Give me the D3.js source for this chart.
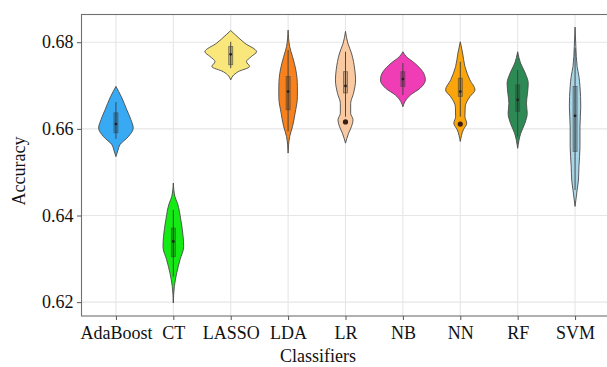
<!DOCTYPE html>
<html>
<head>
<meta charset="utf-8">
<script src="https://cdn.jsdelivr.net/npm/d3@7"></script>
<style>
  body { margin: 0; background: #fff; }
  svg { display: block; }
</style>
</head>
<body>
<div class="chart"></div>
<script>
var container_width = 607;
var container_height = 367;

// data
var classifiers = ["AdaBoost", "CT", "LASSO", "LDA", "LR", "NB", "NN", "RF", "SVM"];
var fill_colors = ["#38AAF3", "#14EA14", "#F9E77C", "#F7821D", "#F9C9A1", "#F03DB6", "#FBA50C", "#2E8A55", "#A8D6E8"];
var y_ticks = [0.62, 0.64, 0.66, 0.68];

// violin outlines: accuracy levels and relative density
var adaboost_acc = [0.6698, 0.6674, 0.6644, 0.6621, 0.6602, 0.6582, 0.6563, 0.6551, 0.6536];
var adaboost_dens = [0, 0.21, 0.42, 0.58, 0.67, 0.48, 0.15, 0.08, 0];
var ct_acc = [0.6475, 0.6444, 0.6428, 0.6390, 0.6351, 0.6328, 0.6298, 0.6267, 0.6236, 0.6198];
var ct_dens = [0, 0.06, 0.16, 0.29, 0.38, 0.40, 0.26, 0.13, 0.04, 0];
var lasso_acc = [0.6827, 0.6817, 0.6798, 0.6778, 0.6767, 0.6755, 0.6744, 0.6732, 0.6722, 0.6713];
var lasso_dens = [0, 0.18, 0.54, 1.0, 0.80, 0.61, 0.73, 0.29, 0.08, 0];
var lda_acc = [0.6828, 0.6790, 0.6767, 0.6736, 0.6698, 0.6674, 0.6636, 0.6605, 0.6582, 0.6544];
var lda_dens = [0, 0.06, 0.17, 0.30, 0.36, 0.36, 0.27, 0.17, 0.06, 0];
var lr_acc = [0.6825, 0.6798, 0.6775, 0.6736, 0.6713, 0.6682, 0.6659, 0.6636, 0.6621, 0.6605, 0.6590, 0.6567];
var lr_dens = [0, 0.09, 0.23, 0.36, 0.39, 0.31, 0.20, 0.20, 0.29, 0.23, 0.12, 0];
var nb_acc = [0.6778, 0.6767, 0.6752, 0.6732, 0.6713, 0.6694, 0.6678, 0.6663, 0.6651];
var nb_dens = [0, 0.13, 0.45, 0.77, 0.87, 0.67, 0.29, 0.08, 0];
var nn_acc = [0.6801, 0.6775, 0.6744, 0.6713, 0.6690, 0.6674, 0.6651, 0.6628, 0.6613, 0.6598, 0.6571];
var nn_dens = [0, 0.09, 0.18, 0.37, 0.57, 0.37, 0.19, 0.18, 0.25, 0.12, 0];
var rf_acc = [0.6778, 0.6752, 0.6729, 0.6705, 0.6682, 0.6659, 0.6636, 0.6613, 0.6590, 0.6555];
var rf_dens = [0, 0.11, 0.29, 0.41, 0.38, 0.34, 0.37, 0.28, 0.12, 0];
var svm_acc = [0.6835, 0.6790, 0.6744, 0.6721, 0.6698, 0.6651, 0.6605, 0.6559, 0.6513, 0.6482, 0.6459, 0.6421];
var svm_dens = [0, 0.03, 0.08, 0.15, 0.19, 0.22, 0.19, 0.19, 0.15, 0.13, 0.08, 0];

// box stats, same order as classifiers
var whisker_high = [0.6662, 0.6413, 0.6801, 0.6782, 0.6778, 0.6752, 0.6755, 0.6736, 0.6786];
var q3 = [0.6637, 0.6371, 0.6790, 0.6721, 0.6732, 0.6732, 0.6717, 0.6702, 0.6698];
var medians = [0.6611, 0.6340, 0.6772, 0.6686, 0.6699, 0.6715, 0.6686, 0.6667, 0.6630];
var q1 = [0.6591, 0.6305, 0.6748, 0.6644, 0.6683, 0.6698, 0.6675, 0.6640, 0.6548];
var whisker_low = [0.6577, 0.6259, 0.6740, 0.6594, 0.6628, 0.6678, 0.6628, 0.6582, 0.6459];
var outliers = [[], [], [], [], [0.6616], [], [0.6611], [], []];

var profiles = [
    [adaboost_acc, adaboost_dens],
    [ct_acc, ct_dens],
    [lasso_acc, lasso_dens],
    [lda_acc, lda_dens],
    [lr_acc, lr_dens],
    [nb_acc, nb_dens],
    [nn_acc, nn_dens],
    [rf_acc, rf_dens],
    [svm_acc, svm_dens]
];

var violins = classifiers.map(function(name, i){
    return {
        name: name,
        color: fill_colors[i],
        points: profiles[i][0].map(function(a, j){ return {acc: a, dens: profiles[i][1][j]}; }),
        q1: q1[i], q3: q3[i], median: medians[i],
        lo: whisker_low[i], hi: whisker_high[i],
        outliers: outliers[i]
    };
});

var margin = {
    top: 14.5,
    bottom: 51,
    left: 81.5,
    right: -2.5
}

var container = d3.select(".chart").append("svg")
            .attr("width", container_width)
            .attr("height", container_height)
            .attr("font-family", "'Liberation Serif', 'Times New Roman', serif");

var panel_right = container_width - margin.right;
var panel_bottom = container_height - margin.bottom;

// scales
var x_scale = d3.scalePoint()
            .domain(classifiers)
            .range([margin.left, panel_right])
            .padding(0.6);

var y_scale = d3.scaleLinear()
            .domain([0.6168, 0.6864])
            .range([panel_bottom, margin.top]);

var w_scale = d3.scaleLinear()
            .domain([0, 1])
            .range([0, x_scale.step() * 0.45]);

// grid
var grid = container.append("g").attr("class", "grid");
grid.selectAll("line.h")
    .data(y_ticks)
    .enter().append("line")
    .attr("class", "h")
    .attr("x1", margin.left).attr("x2", panel_right)
    .attr("y1", d => y_scale(d)).attr("y2", d => y_scale(d))
    .attr("stroke", "#e6e6e6").attr("stroke-width", 1.1);
grid.selectAll("line.v")
    .data(classifiers)
    .enter().append("line")
    .attr("class", "v")
    .attr("y1", margin.top).attr("y2", panel_bottom)
    .attr("x1", d => x_scale(d)).attr("x2", d => x_scale(d))
    .attr("stroke", "#e6e6e6").attr("stroke-width", 1.1);

// violins
var plot = container.append("g");
var groups = plot.selectAll("g.violin")
    .data(violins)
    .enter().append("g")
    .attr("class", "violin");

groups.append("path")
    .attr("d", function(d){
        var cx = x_scale(d.name);
        var area = d3.area()
            .curve(d3.curveMonotoneY)
            .y(p => y_scale(p.acc))
            .x0(p => cx - w_scale(p.dens))
            .x1(p => cx + w_scale(p.dens));
        return area(d.points);
    })
    .attr("fill", d => d.color)
    .attr("stroke", "#4a4a4a")
    .attr("stroke-width", 0.9);

// boxplots
groups.append("line")
    .attr("x1", d => x_scale(d.name)).attr("x2", d => x_scale(d.name))
    .attr("y1", d => y_scale(d.hi)).attr("y2", d => y_scale(d.lo))
    .attr("stroke", "#3a3a3a").attr("stroke-width", 0.9);

groups.append("rect")
    .attr("x", d => x_scale(d.name) - 2)
    .attr("width", 4)
    .attr("y", d => y_scale(d.q3))
    .attr("height", d => y_scale(d.q1) - y_scale(d.q3))
    .attr("fill", "rgba(0,0,0,0.2)")
    .attr("stroke", "#444")
    .attr("stroke-opacity", 0.7)
    .attr("stroke-width", 0.8);

groups.append("circle")
    .attr("cx", d => x_scale(d.name))
    .attr("cy", d => y_scale(d.median))
    .attr("r", 1.4)
    .attr("fill", "#222");

groups.each(function(d){
    d3.select(this).selectAll("circle.out")
        .data(d.outliers)
        .enter().append("circle")
        .attr("class", "out")
        .attr("cx", x_scale(d.name))
        .attr("cy", o => y_scale(o))
        .attr("r", 2.6)
        .attr("fill", "#3b1f14");
});

// panel border
container.append("rect")
    .attr("x", margin.left).attr("y", margin.top)
    .attr("width", panel_right - margin.left)
    .attr("height", panel_bottom - margin.top)
    .attr("fill", "none")
    .attr("stroke", "#707070")
    .attr("stroke-width", 1.1);

// axes
var y_axis = container.append("g")
    .attr("transform", "translate(" + margin.left + ",0)")
    .call(d3.axisLeft(y_scale).tickValues(y_ticks).tickFormat(d3.format(".2f")).tickSize(4.5).tickPadding(3.5));

var x_axis = container.append("g")
    .attr("transform", "translate(0," + panel_bottom + ")")
    .call(d3.axisBottom(x_scale).tickSize(4).tickPadding(6));

container.selectAll(".domain").remove();
container.selectAll(".tick line").attr("stroke", "#555");
container.selectAll(".tick text")
    .attr("font-family", "'Liberation Serif', 'Times New Roman', serif")
    .attr("font-size", "18px")
    .attr("fill", "#111");

// titles
container.append("text")
    .attr("transform", "translate(24.5,171) rotate(-90)")
    .attr("text-anchor", "middle")
    .attr("font-size", "18px")
    .attr("fill", "#111")
    .text("Accuracy");

container.append("text")
    .attr("x", 318)
    .attr("y", 362)
    .attr("text-anchor", "middle")
    .attr("font-size", "18px")
    .attr("fill", "#111")
    .text("Classifiers");
</script>
</body>
</html>
